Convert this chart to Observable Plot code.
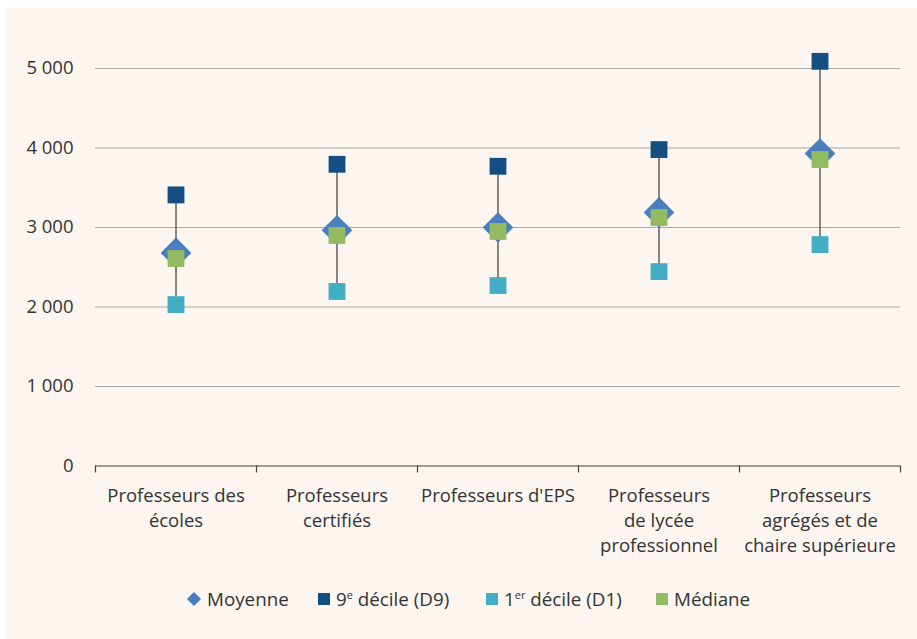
<!DOCTYPE html>
<html>
<head>
<meta charset="utf-8">
<script src="https://cdn.jsdelivr.net/npm/d3@7"></script>
<script src="https://cdn.jsdelivr.net/npm/@observablehq/plot@0.6"></script>
<style>
  html, body { margin: 0; padding: 0; background: #ffffff; }
  #frame { position: absolute; left: 5px; top: 8px; width: 912px; height: 631px; background: #fdf5ef; overflow: hidden; font-family: "Open Sans", sans-serif; color: #333; }
  #chart { position: absolute; left: 0; top: 0; }
  #legend { position: absolute; left: 0; top: 578px; width: 912px; height: 26px; font-size: 18.8px; color: #333; white-space: nowrap; }
  .item { position: absolute; top: 0; height: 26px; display: flex; align-items: center; }
  .sq { width: 12px; height: 12px; margin-right: 6px; }
  .dia { width: 10px; height: 10px; transform: rotate(45deg); margin: 0 8px 0 2px; }
  sup { font-size: 11px; vertical-align: 7px; line-height: 0; }
</style>
</head>
<body>
<div id="frame">
  <div id="chart"></div>
  <div id="legend"></div>
</div>
<script>
const categories = ["Professeurs des écoles", "Professeurs certifiés", "Professeurs d'EPS", "Professeurs de lycée professionnel", "Professeurs agrégés et de chaire supérieure"];
const tickLabels = ["Professeurs des\nécoles", "Professeurs\ncertifiés", "Professeurs d'EPS", "Professeurs\nde lycée\nprofessionnel", "Professeurs\nagrégés et de\nchaire supérieure"];
const moyenne = [2680, 2965, 3000, 3190, 3930];
const d9 = [3410, 3795, 3770, 3980, 5090];
const d1 = [2030, 2195, 2270, 2445, 2785];
const mediane = [2610, 2900, 2950, 3125, 3855];
const yTicks = [0, 1000, 2000, 3000, 4000, 5000];

const colors = { moyenne: "#4a7fbf", d9: "#154f82", d1: "#43adc4", mediane: "#93bb62" };

const rows = categories.map((c, i) => ({ cat: c, moyenne: moyenne[i], d9: d9[i], d1: d1[i], mediane: mediane[i] }));
const labelOf = new Map(categories.map((c, i) => [c, tickLabels[i]]));

const W = 912, H = 570, mL = 90, mR = 17, mT = 60, mB = 112.5;
const bw = (W - mL - mR) / categories.length;

const fmt = d => d3.format(",")(d).replace(/,/g, " ");

const plot = Plot.plot({
  width: W,
  height: H,
  marginLeft: mL,
  marginRight: mR,
  marginTop: mT,
  marginBottom: mB,
  style: { fontFamily: "Open Sans, sans-serif", fontSize: "18.5px", background: "transparent", color: "#333", overflow: "visible" },
  x: { type: "band", domain: categories, padding: 0 },
  y: { domain: [0, 5000] },
  marks: [
    Plot.ruleY(yTicks.filter(d => d > 0), { stroke: "#a8a8a8", strokeWidth: 1 }),
    Plot.ruleY([0], { stroke: "#404040", strokeWidth: 1.2 }),
    Plot.ruleX(categories, { x: d => d, y1: 0, y2: 0, dx: -bw / 2, insetBottom: -7, stroke: "#404040", strokeWidth: 1.2 }),
    Plot.ruleX([categories[categories.length - 1]], { x: d => d, y1: 0, y2: 0, dx: bw / 2, insetBottom: -7, stroke: "#404040", strokeWidth: 1.2 }),
    Plot.axisY({ ticks: yTicks, tickSize: 0, tickPadding: 22, tickFormat: fmt, label: null, fill: "#333" }),
    Plot.axisX({ tickSize: 0, tickPadding: 18.5, tickFormat: d => labelOf.get(d), label: null, lineHeight: 1.35, fill: "#333" }),
    Plot.ruleX(rows, { x: "cat", y1: "d1", y2: "d9", stroke: "#555", strokeWidth: 1.4 }),
    Plot.dot(rows, { x: "cat", y: "d9", symbol: "square", r: 9.5, fill: colors.d9, stroke: "none" }),
    Plot.dot(rows, { x: "cat", y: "d1", symbol: "square", r: 9.5, fill: colors.d1, stroke: "none" }),
    Plot.dot(rows, { x: "cat", y: "moyenne", symbol: "diamond2", r: 13.8, fill: colors.moyenne, stroke: "none" }),
    Plot.dot(rows, { x: "cat", y: "mediane", symbol: "square", r: 9.5, fill: colors.mediane, stroke: "none" })
  ]
});
document.getElementById("chart").appendChild(plot);

const legendItems = [
  { html: "Moyenne", color: colors.moyenne, shape: "dia", left: 182 },
  { html: "9<sup>e</sup> décile (D9)", color: colors.d9, shape: "sq", left: 313 },
  { html: "1<sup>er</sup> décile (D1)", color: colors.d1, shape: "sq", left: 481 },
  { html: "Médiane", color: colors.mediane, shape: "sq", left: 651 }
];
const legend = document.getElementById("legend");
for (const it of legendItems) {
  const item = document.createElement("div");
  item.className = "item";
  item.style.left = it.left + "px";
  const m = document.createElement("div");
  m.className = it.shape;
  m.style.background = it.color;
  const t = document.createElement("span");
  t.innerHTML = it.html;
  item.appendChild(m);
  item.appendChild(t);
  legend.appendChild(item);
}
</script>
</body>
</html>
